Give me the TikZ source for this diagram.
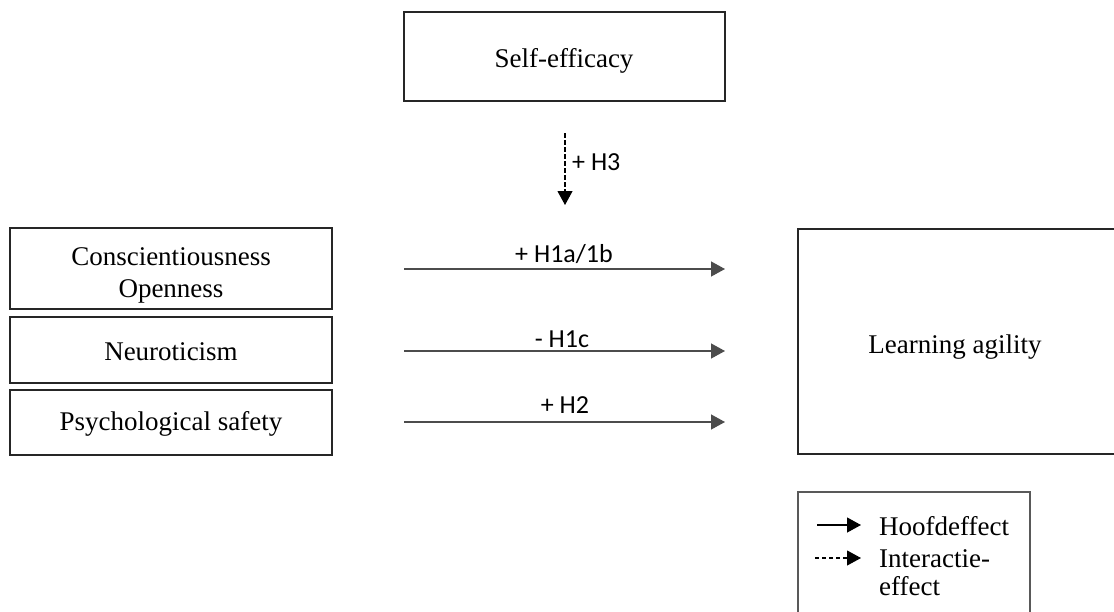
\documentclass[tikz,border=0pt]{standalone}
\usepackage{fontspec}
\setmainfont{Liberation Serif}
\newfontfamily\labfont{Carlito}
\usetikzlibrary{arrows.meta}
\begin{document}
\begin{tikzpicture}[x=1pt,y=-1pt,
  box/.style={draw=black!85, line width=2pt, inner sep=0pt, align=center,
              text depth=0pt, font=\fontsize{27}{32}\selectfont},
  plain/.style={inner sep=0pt, align=left, font=\fontsize{27}{30}\selectfont},
  lbl/.style={inner sep=0pt, anchor=base, font=\labfont\fontsize{26}{30}\selectfont},
  tip/.style={-{Triangle[length=14pt,width=15pt]}},
  conn/.style={tip, draw=black!70, line width=1.3pt},
  dconn/.style={tip, draw=black, line width=1.1pt, dash pattern=on 4.5pt off 2.5pt}]
\useasboundingbox (0,0) rectangle (1114,611);
\clip (0,0) rectangle (1114,611);

% boxes
\node[box, text height=21pt, minimum width=321pt, minimum height=89pt] (se) at (564,56.5) {Self-efficacy};
\node[box, text height=57pt, minimum width=322pt, minimum height=81pt] (co) at (171,268.5) {Conscientiousness\\Openness};
\node[box, text height=20pt, minimum width=322pt, minimum height=66pt] (ne) at (171,350) {Neuroticism};
\node[box, text height=16pt, minimum width=322pt, minimum height=65pt] (ps) at (171,422.5) {Psychological safety};
\node[box, minimum width=340pt, minimum height=225pt, anchor=west] (la) at (797,341.5) {};
\node[plain, anchor=base] (lat) at (955,353) {Learning agility};

% main-effect arrows
\coordinate (a1s) at (404,269); \coordinate (a1e) at (725,269);
\coordinate (a2s) at (404,351); \coordinate (a2e) at (725,351);
\coordinate (a3s) at (404,422); \coordinate (a3e) at (725,422);
\draw[conn] (a1s) -- (a1e);
\draw[conn] (a2s) -- (a2e);
\draw[conn] (a3s) -- (a3e);
\node[lbl] (l1) at (564,262) {+ H1a/1b};
\node[lbl] (l2) at (562,347) {- H1c};
\node[lbl] (l3) at (565,413) {+ H2};

% interaction arrow
\coordinate (h3s) at (565,133); \coordinate (h3e) at (565,205);
\draw[dconn] (h3s) -- (h3e);
\node[lbl, anchor=base west] (l4) at (572,170) {+ H3};

% legend
\node[draw=black!65, line width=1.5pt, inner sep=0pt, minimum width=232pt, minimum height=140pt, anchor=north west] (leg) at (797,491) {};
\coordinate (g1s) at (817,525); \coordinate (g1e) at (861,525);
\coordinate (g2s) at (815,558); \coordinate (g2e) at (861,558);
\draw[tip, line width=1.2pt] (g1s) -- (g1e);
\draw[tip, line width=1.1pt, dash pattern=on 4pt off 3pt] (g2s) -- (g2e);
\node[plain, anchor=base west] (t1) at (879,535) {Hoofdeffect};
\node[plain, anchor=base west] (t2) at (879,567) {Interactie-};
\node[plain, anchor=base west] (t3) at (879,595) {effect};
\end{tikzpicture}
\end{document}
